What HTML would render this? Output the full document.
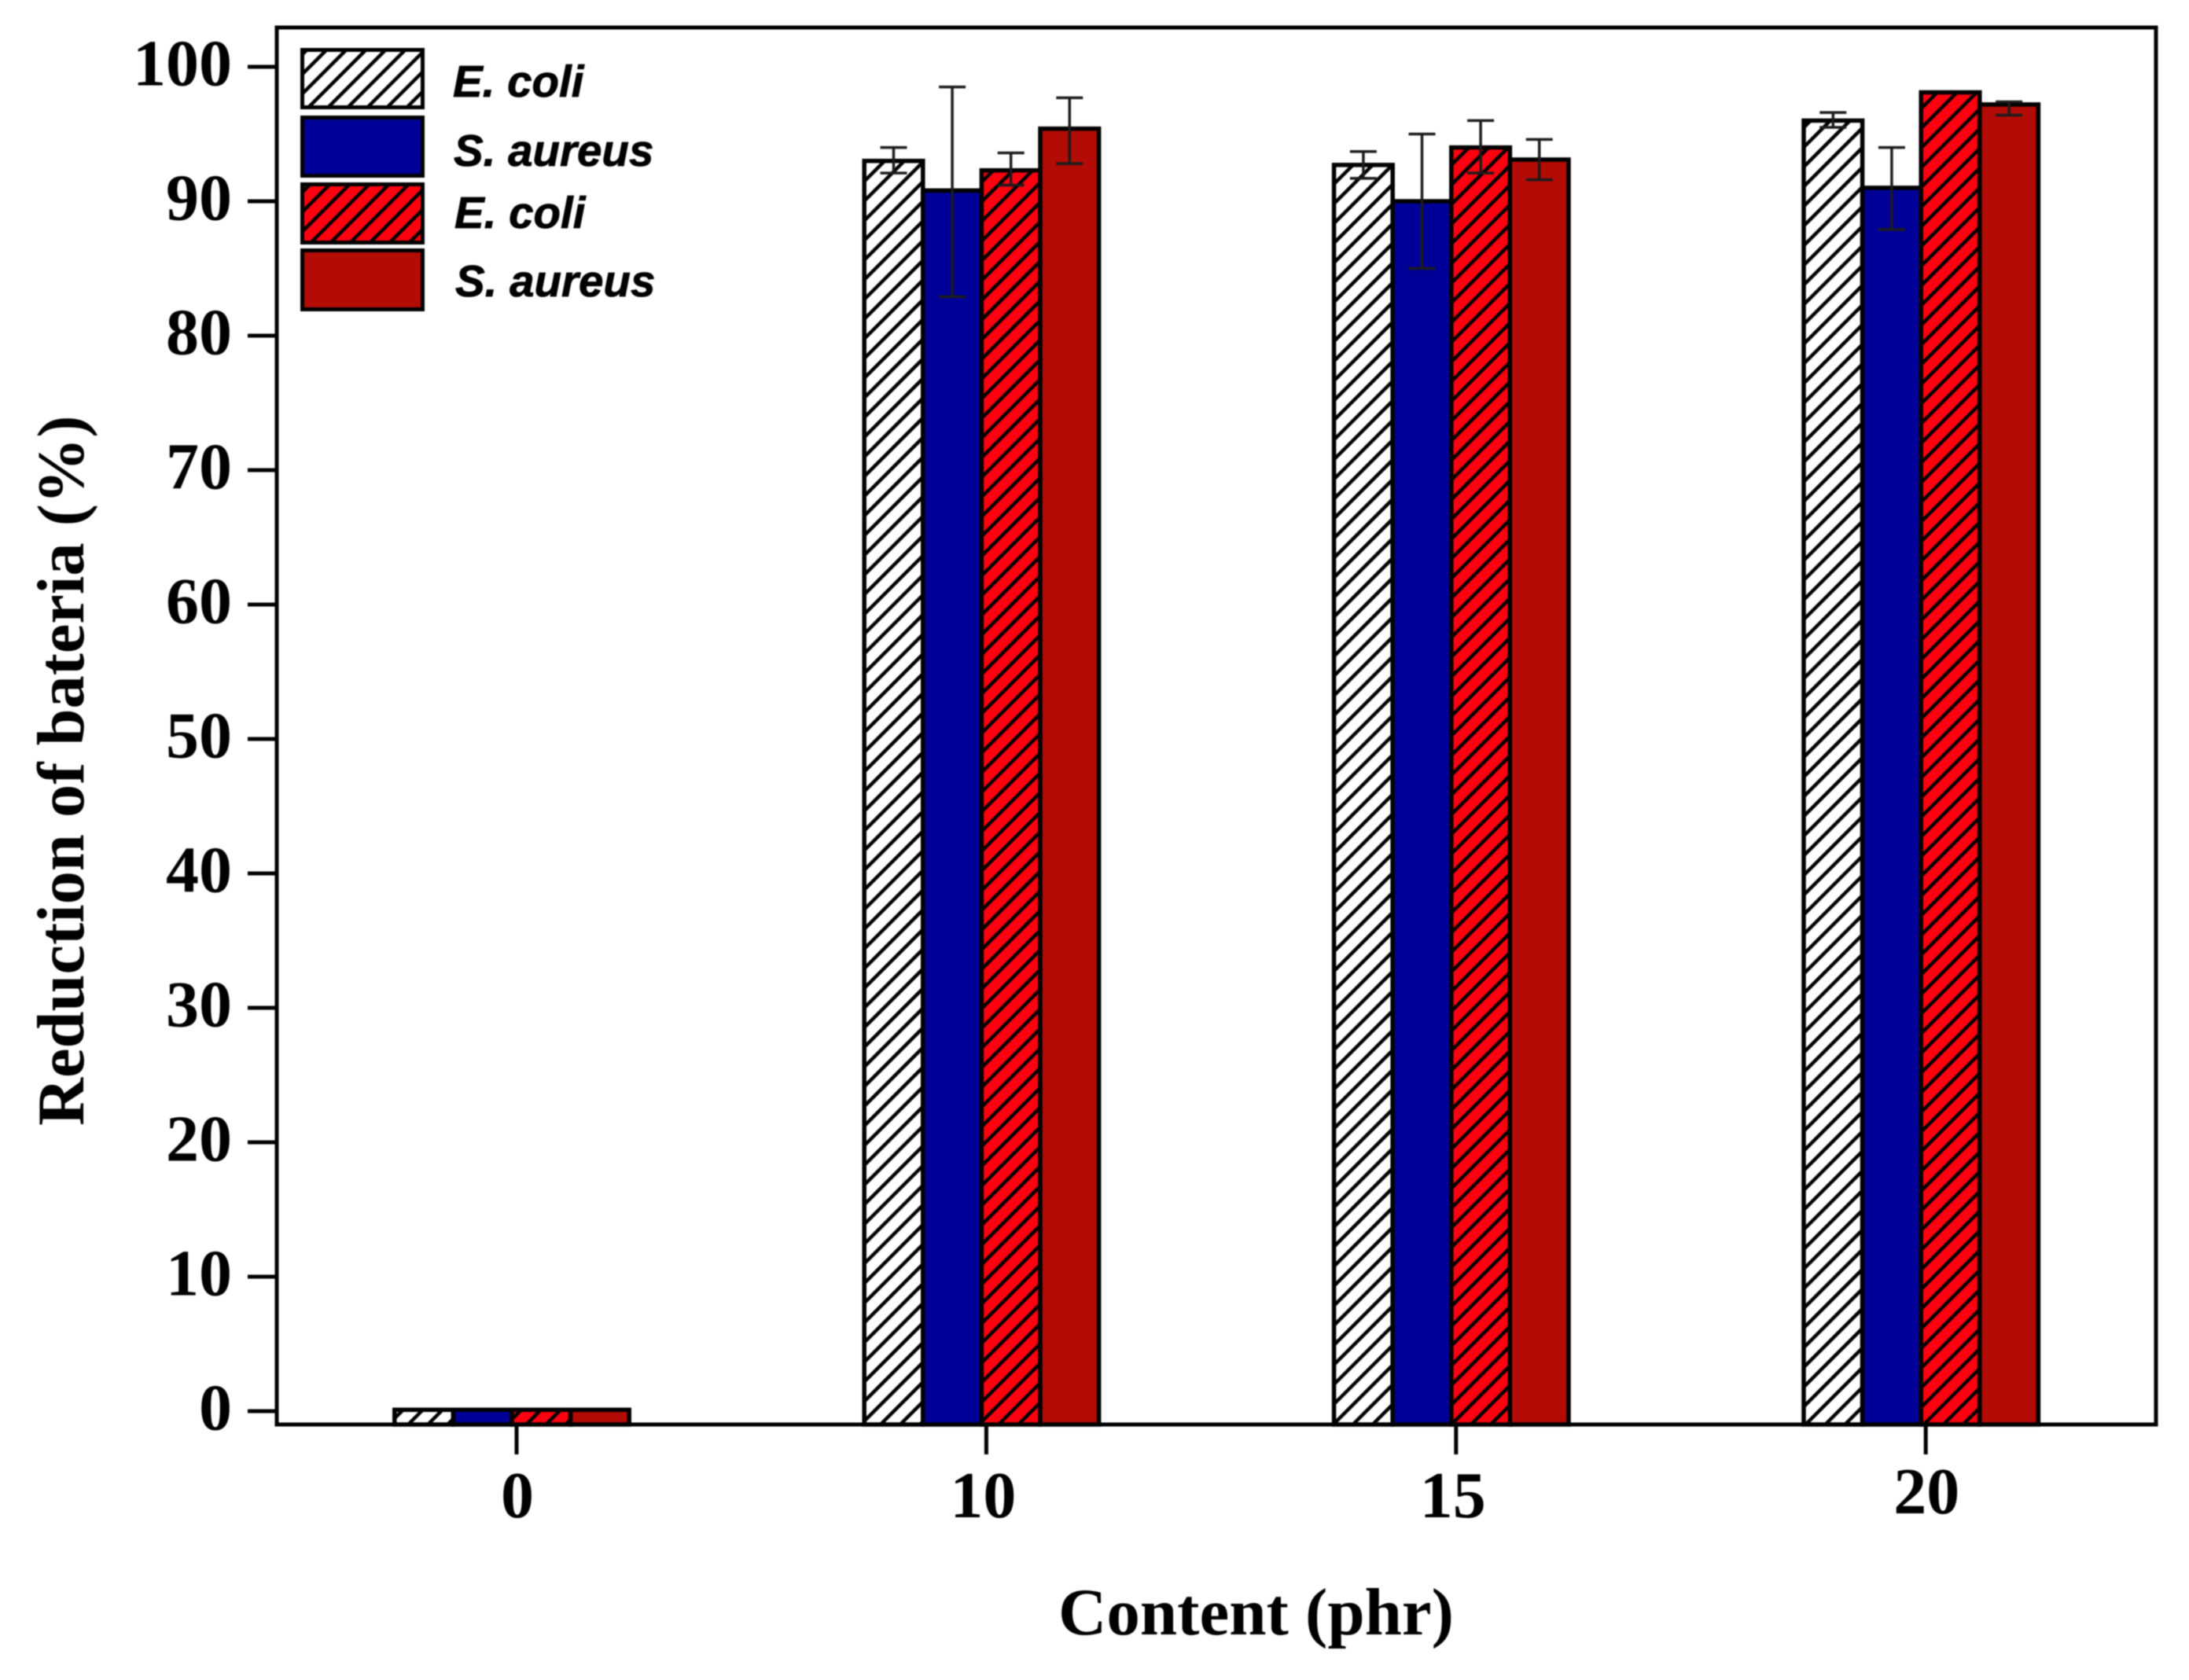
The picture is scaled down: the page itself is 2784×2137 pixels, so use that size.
<!DOCTYPE html>
<html lang="en">
<head>
<meta charset="utf-8">
<title>Reduction of bacteria by content</title>
<style>
  html, body { margin: 0; padding: 0; background: #ffffff; }
  body { width: 2784px; height: 2137px; overflow: hidden; }
  svg { display: block; filter: blur(0.7px); }
  .serif { font-family: "Liberation Serif", serif; font-weight: 700; fill: #000; }
  .sans { font-family: "Liberation Sans", sans-serif; font-weight: 700; font-style: italic; fill: #000; font-size: 56.5px; stroke: #000; stroke-width: 0.8px; }
</style>
</head>
<body>
<svg id="chart" xmlns="http://www.w3.org/2000/svg" width="2784" height="2137" viewBox="0 0 2784 2137">
  <defs>
    <pattern id="hatch-white" patternUnits="userSpaceOnUse" width="17.7" height="17.7" patternTransform="rotate(45)">
      <rect width="17.7" height="17.7" fill="#ffffff"></rect>
      <rect x="0" y="0" width="4.5" height="17.7" fill="#000000"></rect>
    </pattern>
    <pattern id="hatch-red" patternUnits="userSpaceOnUse" width="17.7" height="17.7" patternTransform="rotate(45)">
      <rect width="17.7" height="17.7" fill="#ff0010"></rect>
      <rect x="0" y="0" width="4.5" height="17.7" fill="#000000"></rect>
    </pattern>
  </defs>
  <rect x="0" y="0" width="2784" height="2137" fill="#ffffff"></rect>
  <g id="bars"></g>
  <g id="errors"></g>
  <rect x="352" y="35" width="2390" height="1777" fill="none" stroke="#000" stroke-width="5"></rect>
  <g id="y-axis"></g>
  <g id="x-axis"></g>
  <text class="serif" font-size="84.5" transform="translate(106 1432) rotate(-90)">Reduction of bateria (%)</text>
  <text class="serif" font-size="85" x="1346" y="2079">Content (phr)</text>
  <g id="legend">
    <g>
      <rect x="384.5" y="63.5" width="153" height="73" fill="url(#hatch-white)" stroke="#000" stroke-width="5"></rect>
      <text class="sans" x="576" y="123">E. coli</text>
    </g>
    <g>
      <rect x="384.5" y="149.5" width="153" height="74" fill="#000099" stroke="#000" stroke-width="5"></rect>
      <text class="sans" x="577" y="211">S. aureus</text>
    </g>
    <g>
      <rect x="384.5" y="234.5" width="153" height="74" fill="url(#hatch-red)" stroke="#000" stroke-width="5"></rect>
      <text class="sans" x="578" y="290">E. coli</text>
    </g>
    <g>
      <rect x="384.5" y="318.5" width="153" height="75" fill="#b30b05" stroke="#000" stroke-width="5"></rect>
      <text class="sans" x="579" y="377">S. aureus</text>
    </g>
  </g>
</svg>
<script>
const categories = ['0', '10', '15', '20'];
const yTickLabels = [0, 10, 20, 30, 40, 50, 60, 70, 80, 90, 100];

const eColiWhite = [0.1, 93.0, 92.7, 96.0];
const sAureusBlue = [0.1, 90.8, 90.0, 91.0];
const eColiRed = [0.1, 92.3, 94.0, 98.1];
const sAureusDarkRed = [0.1, 95.4, 93.1, 97.2];

const eColiWhiteHigh = [null, 94.0, 93.7, 96.6];
const eColiWhiteLow = [null, 92.1, 91.7, 95.5];
const sAureusBlueHigh = [null, 98.5, 95.0, 94.0];
const sAureusBlueLow = [null, 82.9, 85.0, 87.9];
const eColiRedHigh = [null, 93.6, 96.0, null];
const eColiRedLow = [null, 91.2, 92.1, null];
const sAureusDarkRedHigh = [null, 97.7, 94.6, 97.4];
const sAureusDarkRedLow = [null, 92.8, 91.6, 96.4];

const SVG_NS = 'http://www.w3.org/2000/svg';
const barsLayer = document.getElementById('bars');
const errorsLayer = document.getElementById('errors');
const yAxisLayer = document.getElementById('y-axis');
const xAxisLayer = document.getElementById('x-axis');

const AXIS_BOTTOM = 1812;
const AXIS_LEFT = 352;
const BAR_WIDTH = 74.6;
const CAP_HALF = 17;

function yScale(v) {
  return 1795 - 17.1 * v;
}
function groupCenter(i) {
  return 651 + 597.4 * i;
}
function barLeft(groupIndex, seriesIndex) {
  return groupCenter(groupIndex) + (seriesIndex - 2) * BAR_WIDTH;
}
function tickX(i) {
  return groupCenter(i) + 6;
}
function labelX(i) {
  return tickX(i) + (i === 1 || i === 2 ? -4 : 1);
}
function labelY(i) {
  return i === 3 ? 1925 : 1930;
}
function make(tag) {
  return document.createElementNS(SVG_NS, tag);
}
function drawLine(parent, x1, y1, x2, y2, color, width) {
  const l = make('line');
  l.setAttribute('x1', x1);
  l.setAttribute('y1', y1);
  l.setAttribute('x2', x2);
  l.setAttribute('y2', y2);
  l.setAttribute('stroke', color);
  l.setAttribute('stroke-width', width);
  parent.appendChild(l);
  return l;
}

const seriesValues = [eColiWhite, sAureusBlue, eColiRed, sAureusDarkRed];
const seriesHigh = [eColiWhiteHigh, sAureusBlueHigh, eColiRedHigh, sAureusDarkRedHigh];
const seriesLow = [eColiWhiteLow, sAureusBlueLow, eColiRedLow, sAureusDarkRedLow];
const seriesFills = ['url(#hatch-white)', '#000099', 'url(#hatch-red)', '#b30b05'];
const seriesSlugs = ['e-coli-white', 's-aureus-blue', 'e-coli-red', 's-aureus-dark-red'];

seriesValues.forEach(function (values, s) {
  values.forEach(function (v, g) {
    const top = yScale(v);
    const rect = make('rect');
    rect.setAttribute('x', barLeft(g, s));
    rect.setAttribute('y', top);
    rect.setAttribute('width', BAR_WIDTH);
    rect.setAttribute('height', AXIS_BOTTOM - top);
    rect.setAttribute('fill', seriesFills[s]);
    rect.setAttribute('stroke', '#000');
    rect.setAttribute('stroke-width', 5.5);
    
    
    barsLayer.appendChild(rect);

    const hi = seriesHigh[s][g];
    const lo = seriesLow[s][g];
    if (hi !== null && lo !== null) {
      const cx = barLeft(g, s) + BAR_WIDTH / 2;
      const err = make('g');
      
      
      drawLine(err, cx, yScale(hi), cx, yScale(lo), '#1c1c1c', 3.5);
      drawLine(err, cx - CAP_HALF, yScale(hi), cx + CAP_HALF, yScale(hi), '#1c1c1c', 3.5);
      drawLine(err, cx - CAP_HALF, yScale(lo), cx + CAP_HALF, yScale(lo), '#1c1c1c', 3.5);
      errorsLayer.appendChild(err);
    }
  });
});

yTickLabels.forEach(function (v) {
  const t = drawLine(yAxisLayer, 315, yScale(v), AXIS_LEFT, yScale(v), '#000', 5);
  
  
  const label = make('text');
  label.textContent = String(v);
  label.setAttribute('x', 295);
  label.setAttribute('y', yScale(v) + 23.5);
  label.setAttribute('text-anchor', 'end');
  label.setAttribute('font-size', 84);
  label.setAttribute('class', 'serif');
  
  
  yAxisLayer.appendChild(label);
});

categories.forEach(function (c, i) {
  const t = drawLine(xAxisLayer, tickX(i), AXIS_BOTTOM, tickX(i), 1850, '#000', 5);
  
  
  const label = make('text');
  label.textContent = c;
  label.setAttribute('x', labelX(i));
  label.setAttribute('y', labelY(i));
  label.setAttribute('text-anchor', 'middle');
  label.setAttribute('font-size', 84);
  label.setAttribute('class', 'serif');
  
  
  xAxisLayer.appendChild(label);
});
</script>
</body>
</html>
